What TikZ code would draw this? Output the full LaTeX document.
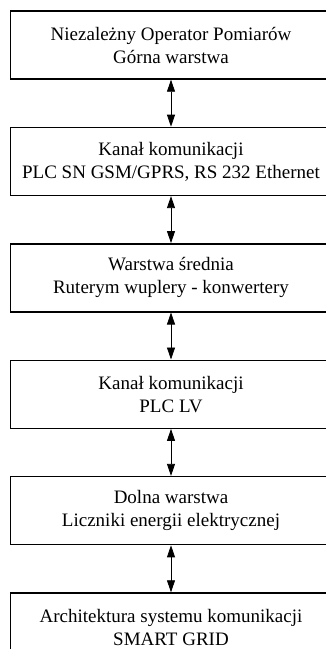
\documentclass[tikz,border=0pt]{standalone}
\usepackage{fontspec}
\setmainfont{Liberation Serif}
\usetikzlibrary{positioning,arrows.meta}

\begin{document}
\begin{tikzpicture}[
    x=1pt, y=1pt,
    node distance=47pt,
    layer/.style={draw, line width=1.4pt, align=center, inner sep=0pt, minimum width=321pt, minimum height=68pt, font=\fontsize{19}{23}\selectfont},
    link/.style={{Triangle[length=12pt,width=8pt]}-{Triangle[length=12pt,width=8pt]}, line width=0.8pt}
]
\useasboundingbox (0,0) rectangle (326,-649);
\clip (0,0) rectangle (326,-649);

\node[layer] (nop) at (171,-45) {Niezależny Operator Pomiarów\\Górna warstwa};
\node[layer, below=of nop] (sn) {Kanał komunikacji\\PLC SN GSM/GPRS, RS 232 Ethernet};
\node[layer, below=of sn] (mid) {Warstwa średnia\\Ruterym wuplery - konwertery};
\node[layer, below=of mid] (lv) {Kanał komunikacji\\PLC LV};
\node[layer, below=of lv] (meter) {Dolna warstwa\\Liczniki energii elektrycznej};
\node[layer, below=of meter] (grid) {Architektura systemu komunikacji\\SMART GRID};

\draw[link] (nop) -- (sn);
\draw[link] (sn) -- (mid);
\draw[link] (mid) -- (lv);
\draw[link] (lv) -- (meter);
\draw[link] (meter) -- (grid);
\end{tikzpicture}
\end{document}
